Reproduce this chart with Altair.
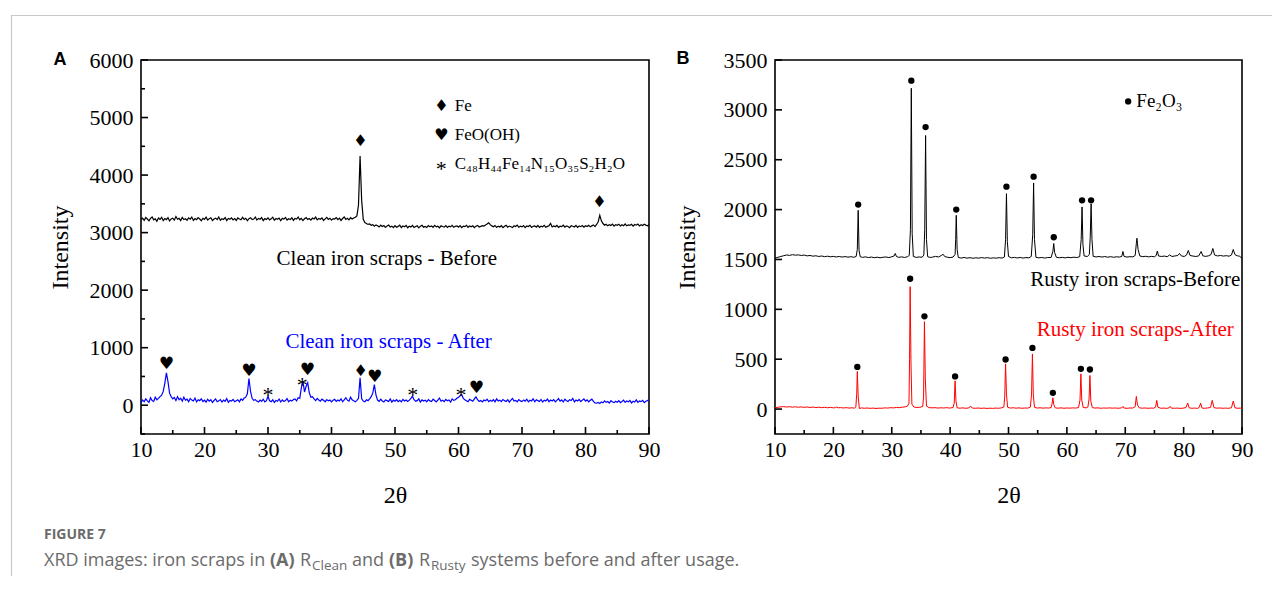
import altair as alt
import pandas as pd

SERIF = "Liberation Serif, 'Times New Roman', serif"
SANS = "'Open Sans', 'Noto Sans', sans-serif"
SYM = "DejaVu Sans"
BOLD_SANS = "Liberation Sans, Arial, sans-serif"

# ---------------- Panel A data (step scan 10-90 deg, 0.25 deg step) ----------------
A_START, A_STEP = 10.0, 0.25
a_before = [
    3228, 3251, 3214, 3262, 3236, 3205, 3248, 3271, 3222, 3240, 3198, 3255, 3231, 3266, 3210, 3244, 3226, 3259, 3203, 3238,
    3250, 3217, 3279, 3232, 3247, 3209, 3264, 3228, 3241, 3215, 3256, 3233, 3270, 3212, 3245, 3224, 3260, 3237, 3206, 3249,
    3231, 3268, 3219, 3243, 3258, 3211, 3236, 3252, 3227, 3273, 3216, 3240, 3229, 3262, 3208, 3246, 3233, 3257, 3221, 3244,
    3212, 3255, 3238, 3224, 3266, 3230, 3249, 3205, 3241, 3259, 3226, 3236, 3270, 3218, 3247, 3232, 3261, 3209, 3243, 3228,
    3256, 3222, 3239, 3268, 3214, 3245, 3231, 3252, 3207, 3248, 3235, 3263, 3219, 3240, 3227, 3258, 3213, 3246, 3236, 3272,
    3224, 3249, 3210, 3241, 3260, 3228, 3244, 3216, 3253, 3237, 3269, 3221, 3246, 3232, 3257, 3211, 3240, 3265, 3229, 3250,
    3218, 3243, 3236, 3262, 3225, 3251, 3212, 3245, 3274, 3230, 3248, 3221, 3259, 3238, 3255, 3266, 3290, 3480, 4330, 3560,
    3230, 3175, 3160, 3142, 3151, 3128, 3139, 3110, 3134, 3118, 3097, 3129, 3106, 3122, 3091, 3117, 3131, 3099, 3113, 3086,
    3120, 3094, 3108, 3131, 3089, 3115, 3102, 3126, 3085, 3111, 3097, 3124, 3090, 3106, 3119, 3083, 3112, 3128, 3095, 3107,
    3088, 3121, 3103, 3116, 3092, 3127, 3099, 3110, 3084, 3118, 3106, 3095, 3123, 3089, 3113, 3100, 3126, 3093, 3109, 3117,
    3096, 3122, 3087, 3111, 3104, 3128, 3092, 3115, 3100, 3119, 3086, 3112, 3125, 3098, 3108, 3121, 3115, 3132, 3150, 3170,
    3138, 3117, 3101, 3124, 3090, 3113, 3097, 3120, 3085, 3109, 3126, 3094, 3114, 3103, 3088, 3119, 3107, 3130, 3093, 3111,
    3099, 3123, 3087, 3115, 3105, 3128, 3091, 3110, 3118, 3096, 3124, 3089, 3112, 3102, 3127, 3093, 3108, 3120, 3160, 3098,
    3116, 3101, 3125, 3090, 3112, 3104, 3129, 3094, 3118, 3107, 3086, 3121, 3110, 3098, 3126, 3091, 3115, 3103, 3122, 3095,
    3119, 3106, 3128, 3100, 3117, 3134, 3105, 3142, 3190, 3300, 3205, 3158, 3130, 3145, 3118, 3137, 3124, 3149, 3112, 3139,
    3127, 3146, 3115, 3138, 3121, 3150, 3118, 3135, 3126, 3144, 3112, 3140, 3129, 3148, 3117, 3136, 3123, 3145, 3130, 3119,
    3138,
]
a_after = [
    45, 92, 60, 110, 75, 48, 130, 82, 66, 140, 95, 120, 150, 175, 240, 380, 564, 410, 210, 150,
    110, 135, 80, 150, 95, 120, 70, 140, 88, 105, 62, 118, 90, 74, 125, 58, 96, 80, 112, 65,
    88, 52, 104, 70, 95, 48, 82, 110, 60, 76, 98, 55, 90, 68, 115, 50, 84, 72, 100, 62,
    78, 95, 58, 110, 86, 125, 140, 200, 465, 240, 120, 85, 98, 72, 55, 90, 68, 104, 58, 80,
    157, 75, 62, 95, 50, 84, 70, 108, 56, 92, 66, 80, 115, 60, 88, 72, 98, 110, 75, 130,
    120, 300, 420, 230, 330, 390, 220, 140, 150, 110, 80, 120, 92, 70, 105, 85, 60, 98, 76, 90,
    58, 85, 102, 66, 90, 74, 112, 60, 95, 130, 88, 70, 140, 96, 78, 62, 85, 120, 477, 110,
    72, 60, 95, 80, 110, 150, 210, 360, 180, 90, 68, 104, 75, 58, 92, 80, 66, 110, 54, 88,
    70, 96, 62, 85, 58, 100, 74, 90, 66, 88, 120, 157, 95, 68, 80, 110, 56, 92, 72, 88,
    60, 98, 75, 64, 105, 82, 58, 90, 125, 70, 86, 62, 100, 78, 92, 55, 110, 84, 96, 120,
    140, 165, 186, 120, 95, 78, 60, 102, 88, 70, 110, 145, 96, 64, 82, 58, 90, 76, 104, 62,
    85, 70, 96, 58, 110, 74, 88, 62, 100, 80, 66, 95, 54, 90, 118, 72, 84, 60, 98, 76,
    64, 92, 70, 105, 58, 86, 74, 112, 60, 94, 80, 66, 100, 56, 88, 72, 108, 62, 90, 75,
    98, 60, 84, 115, 70, 92, 56, 104, 78, 66, 96, 82, 120, 58, 90, 74, 100, 64, 88, 110,
    70, 92, 60, 86, 105, 66, 40, 35, 48, 30, 58, 42, 76, 50, 64, 38, 80, 55, 46, 70,
    52, 78, 44, 66, 90, 48, 72, 58, 84, 40, 68, 56, 94, 50, 74, 62, 86, 46, 70, 80,
    95,
]
a_theta = [A_START + A_STEP * k for k in range(len(a_before))]

# peak markers, panel A
a_diamond_t = [44.55, 82.2, 44.6]
a_diamond_i = [4590, 3540, 593]
a_heart_t = [14.0, 27.0, 36.2, 46.8, 62.8]
a_heart_i = [709, 593, 605, 494, 302]
a_star_t = [30.0, 35.4, 52.8, 60.4]
a_star_i = [273, 430, 273, 273]

a_legend_sym = ["\u2666", "\u2665", "*"]
a_legend_lbl = ["Fe", "FeO(OH)", "C\u2084\u2088H\u2084\u2084Fe\u2081\u2084N\u2081\u2085O\u2083\u2085S\u2082H\u2082O"]
a_legend_i = [5200, 4700, 4195]
a_legend_sym_t = 57.3
a_legend_lbl_t = 59.4

a_note_text = ["Clean iron scraps - Before", "Clean iron scraps - After"]
a_note_t = [48.7, 49.0]
a_note_i = [2540, 1096]
a_note_color = ["black", "#0000ff"]

# ---------------- Panel B data ----------------
b_before_t = [10.0, 10.5, 11.0, 11.5, 12.0, 12.5, 13.0, 13.5, 14.0, 14.5, 15.0, 15.5, 16.0, 16.5, 17.0, 17.5, 18.0, 18.5, 19.0, 19.5,
              20.0, 20.5, 21.0, 21.5, 22.0, 22.5, 23.0, 23.5, 23.9, 24.1, 24.25, 24.4, 24.6, 25.0, 25.5, 26.0, 26.5, 27.0, 27.5, 28.0,
              28.5, 29.0, 29.5, 30.0, 30.4, 30.6, 30.8, 31.2, 31.7, 32.2, 32.7, 33.0, 33.2, 33.35, 33.5, 33.7, 34.2, 34.7, 35.2, 35.5,
              35.65, 35.8, 35.95, 36.15, 36.6, 37.0, 37.5, 38.0, 38.5, 38.8, 39.1, 39.6, 40.0, 40.5, 40.85, 40.95, 41.05, 41.2, 41.4, 41.9,
              42.4, 42.9, 43.4, 43.9, 44.4, 44.9, 45.4, 45.9, 46.4, 46.9, 47.4, 47.9, 48.4, 48.9, 49.3, 49.5, 49.65, 49.8, 50.0, 50.5,
              51.0, 51.5, 52.0, 52.5, 53.0, 53.5, 53.9, 54.15, 54.3, 54.45, 54.7, 55.2, 55.7, 56.2, 56.7, 57.3, 57.6, 57.75, 57.9, 58.2,
              58.7, 59.2, 59.7, 60.2, 60.7, 61.2, 61.7, 62.2, 62.45, 62.6, 62.75, 62.95, 63.5, 63.85, 64.0, 64.15, 64.3, 64.5, 65.0, 65.5,
              66.0, 66.5, 67.0, 67.5, 68.0, 68.5, 69.0, 69.4, 69.6, 69.8, 70.3, 70.8, 71.3, 71.7, 71.9, 72.0, 72.2, 72.5, 73.0, 73.5,
              74.0, 74.5, 75.0, 75.3, 75.5, 75.7, 76.2, 76.7, 77.2, 77.6, 78.0, 78.5, 79.0, 79.3, 79.6, 80.1, 80.5, 80.8, 81.1, 81.6,
              82.1, 82.6, 83.0, 83.3, 83.8, 84.3, 84.7, 85.0, 85.3, 85.8, 86.3, 86.8, 87.3, 87.8, 88.2, 88.5, 88.8, 89.2, 89.6, 90.0]
b_before_i = [1513, 1522, 1530, 1538, 1545, 1541, 1548, 1543, 1546, 1540, 1544, 1536, 1540, 1533, 1537, 1530, 1535, 1528, 1533, 1527,
              1531, 1525, 1530, 1524, 1529, 1523, 1528, 1522, 1530, 1600, 1993, 1590, 1528, 1521, 1526, 1519, 1524, 1518, 1523, 1517,
              1522, 1525, 1519, 1527, 1535, 1560, 1530, 1521, 1526, 1520, 1528, 1540, 1800, 3217, 1760, 1530, 1521, 1525, 1522, 1545,
              1800, 2743, 1700, 1528, 1520, 1524, 1531, 1525, 1540, 1552, 1528, 1522, 1518, 1524, 1550, 1700, 1943, 1600, 1520, 1514,
              1520, 1513, 1518, 1512, 1517, 1513, 1519, 1514, 1518, 1512, 1516, 1513, 1518, 1514, 1525, 1700, 2160, 1680, 1530, 1517,
              1521, 1515, 1520, 1514, 1519, 1516, 1530, 1750, 2267, 1700, 1522, 1516, 1520, 1514, 1519, 1520, 1580, 1660, 1570, 1522,
              1517, 1521, 1516, 1522, 1518, 1523, 1519, 1528, 1700, 2027, 1650, 1535, 1530, 1550, 1720, 2057, 1700, 1532, 1525, 1530,
              1524, 1529, 1523, 1528, 1522, 1527, 1524, 1530, 1580, 1530, 1524, 1528, 1526, 1540, 1660, 1713, 1600, 1535, 1528, 1532,
              1526, 1531, 1527, 1540, 1585, 1535, 1530, 1534, 1528, 1545, 1530, 1535, 1540, 1560, 1536, 1530, 1545, 1590, 1540, 1534,
              1530, 1536, 1580, 1536, 1531, 1537, 1550, 1610, 1545, 1535, 1540, 1534, 1538, 1533, 1545, 1600, 1548, 1537, 1532, 1510]

b_after_t = [10.0, 10.5, 11.0, 11.5, 12.0, 12.5, 13.0, 13.5, 14.0, 14.5, 15.0, 15.5, 16.0, 16.5, 17.0, 17.5, 18.0, 18.5, 19.0, 19.5,
             20.0, 20.4, 20.6, 20.8, 21.2, 21.7, 22.2, 22.7, 23.2, 23.6, 23.85, 24.0, 24.1, 24.25, 24.45, 24.8, 25.3, 25.8, 26.3, 26.8,
             27.3, 27.8, 28.3, 28.8, 29.3, 29.8, 30.3, 30.8, 31.3, 31.8, 32.3, 32.7, 32.95, 33.05, 33.15, 33.3, 33.45, 33.8, 34.3, 34.8,
             35.3, 35.45, 35.6, 35.75, 35.95, 36.4, 36.9, 37.4, 37.9, 38.4, 38.9, 39.4, 39.9, 40.5, 40.7, 40.85, 41.0, 41.2, 41.7, 42.2,
             42.7, 43.2, 43.5, 43.8, 44.3, 44.8, 45.3, 45.8, 46.3, 46.8, 47.3, 47.8, 48.3, 48.8, 49.2, 49.35, 49.5, 49.65, 49.85, 50.3,
             50.8, 51.3, 51.8, 52.3, 52.8, 53.3, 53.75, 53.95, 54.1, 54.25, 54.45, 54.9, 55.4, 55.9, 56.4, 56.9, 57.3, 57.45, 57.6, 57.75,
             58.0, 58.5, 59.0, 59.5, 60.0, 60.5, 61.0, 61.5, 62.0, 62.25, 62.4, 62.55, 62.8, 63.3, 63.6, 63.8, 63.95, 64.1, 64.35, 64.8,
             65.3, 65.8, 66.3, 66.8, 67.3, 67.8, 68.3, 68.8, 69.4, 69.6, 69.8, 70.3, 70.8, 71.3, 71.7, 71.9, 72.1, 72.4, 72.9, 73.4,
             73.9, 74.4, 74.9, 75.2, 75.4, 75.6, 76.1, 76.6, 77.1, 77.5, 77.7, 77.9, 78.4, 78.9, 79.4, 79.9, 80.4, 80.7, 80.95, 81.4,
             81.9, 82.4, 82.7, 82.9, 83.15, 83.6, 84.1, 84.6, 84.9, 85.2, 85.7, 86.2, 86.7, 87.2, 87.7, 88.2, 88.5, 88.8, 89.3, 89.7,
             90.0]
b_after_i = [13, 18, 22, 25, 20, 24, 19, 23, 18, 22, 17, 21, 16, 20, 15, 19, 14, 18, 13, 17,
             12, 15, 22, 12, 15, 11, 14, 10, 13, 9, 20, 150, 377, 130, 5, 12, 8, 11, 7, 10,
             6, 9, 8, 12, 10, 14, 12, 16, 14, 19, 22, 30, 60, 500, 1227, 450, 50, 20, 16, 18,
             25, 120, 877, 300, 30, 15, 12, 14, 10, 13, 11, 14, 10, 15, 60, 283, 80, 12, 9, 12,
             8, 11, 30, 10, 8, 11, 7, 10, 6, 9, 7, 10, 8, 12, 20, 120, 453, 150, 18, 10,
             13, 9, 12, 8, 11, 9, 20, 150, 553, 140, 18, 10, 13, 9, 12, 10, 15, 50, 113, 45,
             12, 9, 12, 8, 11, 9, 12, 10, 15, 90, 353, 90, 16, 12, 20, 100, 337, 80, 15, 10,
             12, 8, 11, 9, 12, 9, 11, 8, 12, 27, 10, 8, 11, 10, 25, 127, 40, 12, 9, 11,
             8, 10, 9, 20, 87, 18, 8, 10, 7, 12, 27, 9, 8, 10, 7, 9, 15, 60, 12, 8,
             10, 7, 18, 60, 10, 8, 11, 16, 87, 14, 9, 11, 8, 10, 7, 14, 80, 12, 8, 10,
             6]

b_dot_before_t = [24.25, 33.35, 35.8, 41.05, 49.65, 54.3, 57.75, 62.6, 64.15]
b_dot_before_i = [2050, 3293, 2827, 2000, 2230, 2330, 1723, 2093, 2093]
b_dot_after_t = [24.1, 33.15, 35.6, 40.85, 49.5, 54.1, 57.6, 62.4, 63.95]
b_dot_after_i = [423, 1307, 930, 327, 497, 613, 163, 403, 397]

b_legend_dot_t, b_legend_dot_i = [70.5], [3085]
b_legend_lbl_t, b_legend_lbl = [71.9], ["Fe\u2082O\u2083"]

b_note_text = ["Rusty iron scraps-Before", "Rusty iron scraps-After"]
b_note_t = [89.7, 88.6]
b_note_i = [1298, 796]
b_note_color = ["black", "#ff0000"]

x_major = [10, 20, 30, 40, 50, 60, 70, 80, 90]
x_minor = [15, 25, 35, 45, 55, 65, 75, 85]
a_y_major = [0, 1000, 2000, 3000, 4000, 5000, 6000]
a_y_minor = [-500, 500, 1500, 2500, 3500, 4500, 5500]
b_y_major = [0, 500, 1000, 1500, 2000, 2500, 3000, 3500]

# ---------------- layout ----------------
WA, WB, H = 508, 467, 374
ONE = pd.DataFrame({"k": [0]})


def make_enc(width, xdom, ydom, yvals, title_x):
    X = alt.X("t:Q", title="2\u03b8", scale=alt.Scale(domain=xdom, nice=False, zero=False),
              axis=alt.Axis(values=x_major, ticks=False, domain=False, grid=False, labelFlush=False,
                            labelFont=SERIF, labelFontSize=22, labelColor="black", labelPadding=5,
                            titleFont=SERIF, titleFontSize=24, titleFontWeight="normal", titleColor="black",
                            titleX=width / 2, titleY=61, titleBaseline="middle", titleAlign="center"))
    Y = alt.Y("i:Q", title="Intensity", scale=alt.Scale(domain=ydom, nice=False, zero=False),
              axis=alt.Axis(values=yvals, format="d", ticks=False, domain=False, grid=False, labelFlush=False,
                            labelFont=SERIF, labelFontSize=22, labelColor="black", labelPadding=8,
                            titleFont=SERIF, titleFontSize=24, titleFontWeight="normal", titleColor="black",
                            titleX=title_x, titleY=H / 2, titleAngle=270, titleBaseline="middle", titleAlign="center"))
    return X, Y


def tick_layers(X, Y, ymaj, ymin):
    layers = [
        alt.Chart(pd.DataFrame({"t": x_major})).mark_rule(color="black", strokeWidth=1.6)
        .encode(x=X, y=alt.value(H), y2=alt.value(H - 7)),
        alt.Chart(pd.DataFrame({"t": x_minor})).mark_rule(color="black", strokeWidth=1.6)
        .encode(x=X, y=alt.value(H), y2=alt.value(H - 4)),
        alt.Chart(pd.DataFrame({"i": ymaj})).mark_rule(color="black", strokeWidth=1.6)
        .encode(y=Y, x=alt.value(0), x2=alt.value(7)),
    ]
    if ymin:
        layers.append(alt.Chart(pd.DataFrame({"i": ymin})).mark_rule(color="black", strokeWidth=1.6)
                      .encode(y=Y, x=alt.value(0), x2=alt.value(4)))
    return layers


def glyphs(X, Y, ts, ys, ch, font, size, dy=0):
    df = pd.DataFrame({"t": ts, "i": ys})
    return alt.Chart(df).mark_text(text=ch, font=font, fontSize=size, color="black",
                                   baseline="middle", align="center", dy=dy).encode(x=X, y=Y)


def pix_text(s, x, y, font, size, color="black", weight="normal", align="left"):
    return alt.Chart(ONE).mark_text(text=s, font=font, fontSize=size, color=color, fontWeight=weight,
                                    align=align, baseline="middle").encode(x=alt.value(x), y=alt.value(y))


# ---- Panel A ----
XA, YA = make_enc(WA, [10, 90], [-500, 6000], a_y_major, -81)
dfa1 = pd.DataFrame({"t": a_theta, "i": a_before})
dfa2 = pd.DataFrame({"t": a_theta, "i": a_after})
line_a1 = alt.Chart(dfa1).mark_line(color="black", strokeWidth=1.2).encode(x=XA, y=YA)
line_a2 = alt.Chart(dfa2).mark_line(color="#0000ff", strokeWidth=1.2).encode(x=XA, y=YA)

leg_a = pd.DataFrame({"sym": a_legend_sym, "lbl": a_legend_lbl, "i": a_legend_i,
                      "ts": [a_legend_sym_t] * 3, "tl": [a_legend_lbl_t] * 3})
SX = alt.Scale(domain=[10, 90], nice=False, zero=False)
leg_sym_a = alt.Chart(leg_a.iloc[:2]).mark_text(font=SYM, fontSize=16, color="black", baseline="middle", align="center") \
    .encode(x=alt.X("ts:Q", scale=SX), y=YA, text="sym:N")
leg_star_a = alt.Chart(leg_a.iloc[2:]).mark_text(font=SERIF, fontSize=22, color="black", baseline="middle", align="center", dy=5) \
    .encode(x=alt.X("ts:Q", scale=SX), y=YA, text="sym:N")
leg_lbl_a = alt.Chart(leg_a).mark_text(font=SERIF, fontSize=17, color="black", baseline="middle", align="left") \
    .encode(x=alt.X("tl:Q", scale=SX), y=YA, text="lbl:N")

note_a = alt.Chart(pd.DataFrame({"t": a_note_t, "i": a_note_i, "txt": a_note_text, "c": a_note_color})) \
    .mark_text(font=SERIF, fontSize=21, baseline="middle", align="center") \
    .encode(x=XA, y=YA, text="txt:N", color=alt.Color("c:N", scale=None))

GRAY = "#c8c8c8"
CAP = "#6b6b6b"
frame_top = alt.Chart(ONE).mark_rule(color=GRAY, strokeWidth=1.2).encode(
    x=alt.value(-130), x2=alt.value(1131), y=alt.value(-44.5))
frame_left = alt.Chart(ONE).mark_rule(color=GRAY, strokeWidth=1.2).encode(
    x=alt.value(-129.5), y=alt.value(-44.5), y2=alt.value(516))

caption = [
    pix_text("A", -81, 0, BOLD_SANS, 18, weight="bold", align="center"),
    pix_text("FIGURE 7", -97, 475, SANS, 14, color=CAP, weight="bold"),
    pix_text("XRD images: iron scraps in", -97, 501, SANS, 18, color=CAP),
    pix_text("(A)", 129, 501, SANS, 18, color=CAP, weight="bold"),
    pix_text("R", 159, 501, SANS, 18, color=CAP),
    pix_text("Clean", 171, 506, SANS, 13.5, color=CAP),
    pix_text("and", 211, 501, SANS, 18, color=CAP),
    pix_text("(B)", 248, 501, SANS, 18, color=CAP, weight="bold"),
    pix_text("R", 278, 501, SANS, 18, color=CAP),
    pix_text("Rusty", 290, 506, SANS, 13.5, color=CAP),
    pix_text("systems before and after usage.", 330, 501, SANS, 18, color=CAP),
]

panel_a = alt.layer(
    frame_top, frame_left,
    *tick_layers(XA, YA, a_y_major, a_y_minor),
    line_a1, line_a2,
    glyphs(XA, YA, a_diamond_t, a_diamond_i, "\u2666", SYM, 16),
    glyphs(XA, YA, a_heart_t, a_heart_i, "\u2665", SYM, 17),
    glyphs(XA, YA, a_star_t, a_star_i, "*", SERIF, 22, dy=5),
    leg_sym_a, leg_star_a, leg_lbl_a, note_a,
    *caption,
).properties(width=WA, height=H)

# ---- Panel B ----
XB, YB = make_enc(WB, [10, 90], [-250, 3500], b_y_major, -88)
line_b1 = alt.Chart(pd.DataFrame({"t": b_before_t, "i": b_before_i})).mark_line(color="black", strokeWidth=1).encode(x=XB, y=YB)
line_b2 = alt.Chart(pd.DataFrame({"t": b_after_t, "i": b_after_i})).mark_line(color="#ff0000", strokeWidth=1).encode(x=XB, y=YB)
dots_b = alt.Chart(pd.DataFrame({"t": b_dot_before_t + b_dot_after_t + b_legend_dot_t,
                                 "i": b_dot_before_i + b_dot_after_i + b_legend_dot_i})) \
    .mark_point(filled=True, color="black", size=40, opacity=1).encode(x=XB, y=YB)
leg_lbl_b = alt.Chart(pd.DataFrame({"t": b_legend_lbl_t, "i": b_legend_dot_i, "lbl": b_legend_lbl})) \
    .mark_text(font=SERIF, fontSize=19, color="black", baseline="middle", align="left") \
    .encode(x=XB, y=YB, text="lbl:N")
note_b = alt.Chart(pd.DataFrame({"t": b_note_t, "i": b_note_i, "txt": b_note_text, "c": b_note_color})) \
    .mark_text(font=SERIF, fontSize=21, baseline="middle", align="right") \
    .encode(x=XB, y=YB, text="txt:N", color=alt.Color("c:N", scale=None))

panel_b = alt.layer(
    *tick_layers(XB, YB, b_y_major, None),
    line_b1, line_b2, dots_b, leg_lbl_b, note_b,
    pix_text("B", -92, -1, BOLD_SANS, 18, weight="bold", align="center"),
).properties(width=WB, height=H)

chart = alt.hconcat(panel_a, panel_b, spacing=126, bounds="flush").properties(
    padding={"left": 1, "top": 6, "right": 0, "bottom": 0},
    background="white",
).configure_view(stroke="black", strokeWidth=1.6)

chart.save("out.html", embed_options={"renderer": "svg", "actions": False})
